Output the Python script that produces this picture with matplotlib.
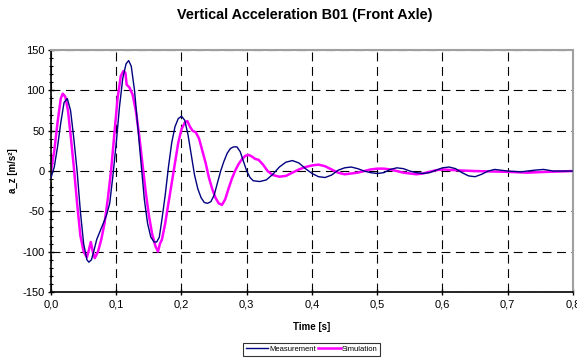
import matplotlib
matplotlib.use('Agg')
import matplotlib.pyplot as plt
from matplotlib.ticker import MultipleLocator, FuncFormatter

plt.rcParams['font.family'] = ['Liberation Sans', 'DejaVu Sans']

# measurement (time [s], a_z [m/s^2])
t_meas = [0.000, 0.005, 0.010, 0.015, 0.020, 0.025, 0.030, 0.035, 0.040, 0.045,
          0.050, 0.055, 0.058, 0.062, 0.066, 0.070, 0.075, 0.080, 0.085, 0.090,
          0.095, 0.100, 0.105, 0.110, 0.115, 0.119, 0.123, 0.128, 0.133, 0.138,
          0.143, 0.148, 0.153, 0.158, 0.162, 0.166, 0.170, 0.175, 0.180, 0.185,
          0.190, 0.195, 0.200, 0.205, 0.210, 0.215, 0.220, 0.225, 0.230, 0.235,
          0.240, 0.245, 0.250, 0.255, 0.260, 0.265, 0.270, 0.275, 0.280, 0.285,
          0.290, 0.295, 0.300, 0.305, 0.310, 0.320, 0.330, 0.340, 0.350, 0.360,
          0.370, 0.380, 0.390, 0.400, 0.410, 0.420, 0.430, 0.440, 0.450, 0.460,
          0.470, 0.480, 0.490, 0.500, 0.510, 0.520, 0.530, 0.540, 0.550, 0.560,
          0.570, 0.580, 0.590, 0.600, 0.610, 0.620, 0.630, 0.640, 0.650, 0.660,
          0.670, 0.680, 0.690, 0.700, 0.720, 0.740, 0.755, 0.770, 0.800]
a_meas = [-8, 5, 30, 60, 85, 90, 75, 40, 0, -50,
          -90, -110, -113, -110, -98, -85, -75, -65, -55, -40,
          -5, 35, 80, 115, 133, 137, 130, 100, 55, 10,
          -35, -65, -82, -88, -88, -82, -60, -30, 5, 35,
          55, 65, 68, 63, 45, 20, -5, -22, -33, -39,
          -40, -38, -30, -15, 0, 12, 22, 28, 30, 30,
          24, 12, 0, -8, -12, -13, -11, -4, 5, 11,
          13, 10, 3, -3, -7, -8, -5, 1, 4, 5,
          3, 0, -2, -3, -2, 2, 4, 3, 0, -2,
          -3, -2, 1, 4, 5, 3, -2, -6, -7, -4,
          0, 2, 1, 0, -1, 1, 2, 0, 0]

# simulation
t_sim = [0.000, 0.005, 0.010, 0.015, 0.018, 0.022, 0.026, 0.030, 0.035, 0.040,
         0.045, 0.050, 0.055, 0.058, 0.061, 0.064, 0.067, 0.072, 0.077, 0.082,
         0.087, 0.092, 0.097, 0.102, 0.107, 0.111, 0.114, 0.116, 0.120, 0.125,
         0.130, 0.135, 0.140, 0.145, 0.150, 0.155, 0.160, 0.164, 0.167, 0.170,
         0.175, 0.180, 0.185, 0.190, 0.195, 0.200, 0.205, 0.209, 0.213, 0.217,
         0.222, 0.227, 0.232, 0.237, 0.242, 0.247, 0.252, 0.257, 0.262, 0.267,
         0.272, 0.277, 0.282, 0.287, 0.292, 0.298, 0.303, 0.308, 0.313, 0.318,
         0.325, 0.332, 0.340, 0.350, 0.360, 0.370, 0.380, 0.390, 0.400, 0.410,
         0.420, 0.430, 0.440, 0.450, 0.460, 0.470, 0.480, 0.490, 0.500, 0.510,
         0.520, 0.530, 0.540, 0.550, 0.560, 0.570, 0.580, 0.590, 0.600, 0.620,
         0.650, 0.700, 0.730, 0.760, 0.800]
a_sim = [0, 25, 60, 90, 96, 92, 75, 45, 5, -40,
         -80, -100, -107, -98, -88, -100, -108, -100, -85, -65,
         -35, 0, 45, 90, 118, 124, 122, 107, 104, 95,
         75, 45, 10, -25, -55, -78, -93, -100, -90, -85,
         -65, -40, -15, 10, 35, 52, 60, 62, 55, 50,
         48, 40, 25, 10, -8, -22, -33, -40, -42, -35,
         -22, -10, 0, 8, 14, 19, 20, 18, 15, 14,
         8, 0, -5, -7, -6, -2, 2, 5, 7, 8,
         6, 2, -2, -4, -3, -2, 0, 2, 3, 3,
         2, 0, -2, -3, -4, -3, -1, 1, 2, 1,
         0, -1, -2, -1, 0]

fig = plt.figure(figsize=(5.77, 3.58), dpi=100)
ax = fig.add_axes([0.0884, 0.1844, 0.9046, 0.6756])

ax.plot(t_meas, a_meas, color='#000080', lw=1.0, label='Measurement', zorder=3)
ax.plot(t_sim, a_sim, color='#ff00ff', lw=1.8, label='Simulation', zorder=2)

ax.set_xlim(0, 0.8)
ax.set_ylim(-150, 150)
ax.xaxis.set_major_locator(MultipleLocator(0.1))
ax.yaxis.set_major_locator(MultipleLocator(50))
ax.yaxis.set_minor_locator(MultipleLocator(10))
ax.xaxis.set_major_formatter(FuncFormatter(lambda v, p: ('%.1f' % v).replace('.', ',')))
ax.yaxis.set_major_formatter(FuncFormatter(lambda v, p: '%d' % v))
ax.tick_params(axis='both', which='major', direction='inout', length=5, width=1,
               labelsize=8)
ax.tick_params(axis='y', which='major', pad=2)
ax.tick_params(axis='x', which='major', pad=3)
ax.tick_params(axis='y', which='minor', direction='inout', length=3, width=0.8)

ax.grid(True, which='major', color='black', linestyle=(0, (8, 5)), lw=0.8)
ax.set_axisbelow(True)

for s in ['top', 'right']:
    ax.spines[s].set_color('#a0a0a0')
    ax.spines[s].set_linewidth(1.5)
for s in ['left', 'bottom']:
    ax.spines[s].set_color('black')
    ax.spines[s].set_linewidth(1.2)

fig.text(0.529, 0.958, 'Vertical Acceleration B01 (Front Axle)', fontsize=10.4,
         fontweight='bold', ha='center', va='center')
ax.set_xlabel('Time [s]', fontsize=7, fontweight='bold', labelpad=9)
ax.set_ylabel('a_z [m/s²]', fontsize=7, fontweight='bold', labelpad=3)

leg = fig.legend(loc='center', bbox_to_anchor=(0.54, 0.024), ncol=2,
                 fontsize=5.5, frameon=True, fancybox=False, handlelength=3,
                 columnspacing=0.3, handletextpad=0.1, borderpad=0.35,
                 borderaxespad=0)
leg.get_frame().set_edgecolor('black')
leg.get_frame().set_linewidth(0.8)

fig.savefig('out.png', dpi=100)
